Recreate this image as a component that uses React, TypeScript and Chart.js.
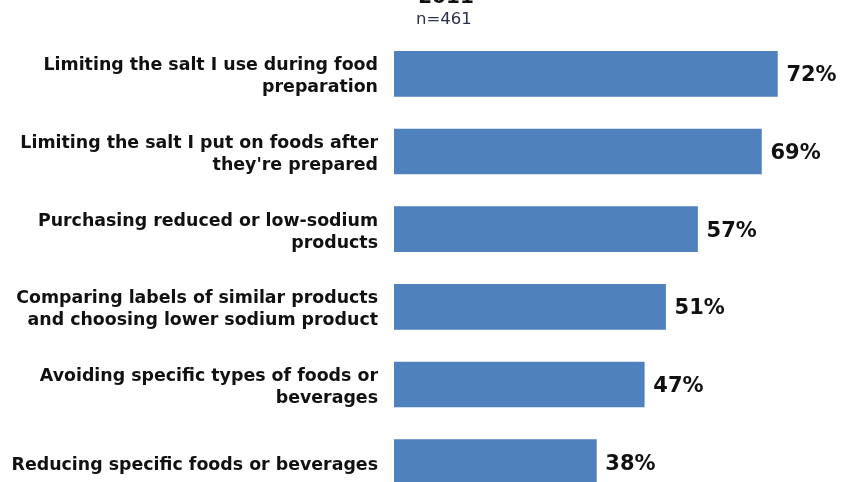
import React, { useEffect, useRef } from "react";
import { Chart, registerables } from "chart.js";
Chart.register(...registerables);

const categories: string[][] = [
  ["Limiting the salt I use during food", "preparation"],
  ["Limiting the salt I put on foods after", "they're prepared"],
  ["Purchasing reduced or low-sodium", "products"],
  ["Comparing labels of similar products", "and choosing lower sodium product"],
  ["Avoiding specific types of foods or", "beverages"],
  ["Reducing specific foods or beverages"],
];
const values: number[] = [72, 69, 57, 51, 47, 38];
const titleText = "2011";
const subtitleText = "n=461";

const labelPlugin = {
  id: "valueLabels",
  afterDatasetsDraw(chart: any) {
    const ctx = chart.ctx;
    const meta = chart.getDatasetMeta(0);
    ctx.save();
    ctx.font = "bold 21px 'DejaVu Sans', Verdana, sans-serif";
    ctx.fillStyle = "#111";
    ctx.textAlign = "left";
    ctx.textBaseline = "middle";
    meta.data.forEach((bar: any, i: number) => {
      ctx.fillText(values[i] + "%", bar.x + 9, bar.y + 2);
    });
    ctx.font = "bold 20px 'DejaVu Sans', Verdana, sans-serif";
    ctx.textAlign = "center";
    ctx.textBaseline = "alphabetic";
    ctx.fillText(titleText, 446, 3);
    ctx.font = "16.5px 'DejaVu Sans', Verdana, sans-serif";
    ctx.fillStyle = "#2a3050";
    ctx.textAlign = "left";
    ctx.fillText(subtitleText, 416, 24);
    ctx.restore();
  },
};

export default function App() {
  const ref = useRef<HTMLCanvasElement>(null);
  useEffect(() => {
    const chart = new Chart(ref.current!, {
      type: "bar",
      data: {
        labels: categories,
        datasets: [
          {
            data: values,
            backgroundColor: "#4f81bd",
            borderWidth: 0,
            barThickness: 45,
          },
        ],
      },
      options: {
        indexAxis: "y",
        animation: false,
        responsive: false,
        layout: { padding: { top: 35, bottom: 4, left: 0, right: 23 } },
        plugins: { legend: { display: false }, tooltip: { enabled: false } },
        scales: {
          x: { display: false, min: 0, max: 80 },
          y: {
            grid: { display: false, drawTicks: false },
            border: { display: false },
            afterFit: (scale: any) => {
              scale.width = 394;
              scale.paddingTop = 0;
              scale.paddingBottom = 0;
            },
            ticks: {
              padding: 16,
              labelOffset: 3,
              color: "#111",
              font: { family: "'DejaVu Sans', Verdana, sans-serif", size: 17.4, weight: "bold", lineHeight: 1.25 },
            },
          },
        },
      },
      plugins: [labelPlugin],
    });
    return () => chart.destroy();
  }, []);
  return (
    <div style={{ position: "fixed", left: 0, top: 0, width: 843, height: 482, overflow: "hidden", background: "#fff" }}>
      <canvas ref={ref} width={843} height={505} style={{ width: 843, height: 505, display: "block" }} />
    </div>
  );
}
